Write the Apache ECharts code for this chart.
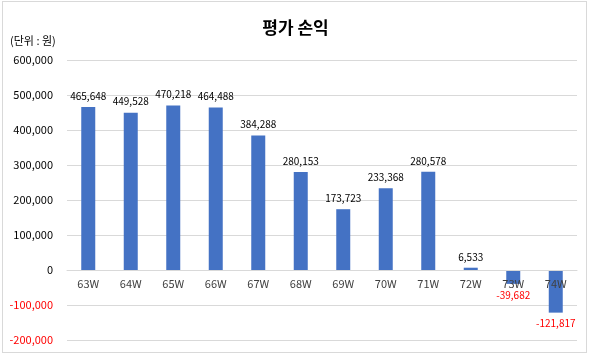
<!DOCTYPE html>
<html><head><meta charset="utf-8">
<script src="https://cdn.jsdelivr.net/npm/echarts@6/dist/echarts.min.js"></script>
<style>html,body{margin:0;padding:0;background:#fff}#c{width:591px;height:356px}
#frame{position:absolute;left:2px;top:1px;width:585px;height:352px;border:1px solid #d9d9d9;box-sizing:border-box;pointer-events:none}</style>
</head><body><div id="c"></div><div id="frame"></div>
<script>
var categories = ['63W','64W','65W','66W','67W','68W','69W','70W','71W','72W','73W','74W'];
var values = [465648,449528,470218,464488,384288,280153,173723,233368,280578,6533,-39682,-121817];
var yTicks = [-200000,-100000,0,100000,200000,300000,400000,500000,600000];
var title = '평가 손익';
var unitLabel = '(단위 : 원)';

function fmt(v){ return String(v).replace(/\B(?=(\d{3})+(?!\d))/g, ','); }
var font = '"Noto Sans CJK KR", "Noto Sans", sans-serif';
var chart = echarts.init(document.getElementById('c'));
var option = {
  animation:false,
  textStyle:{fontFamily:font},
  title:{text:title,left:'center',top:14,textStyle:{fontSize:17,fontWeight:'bold',color:'#000',fontFamily:font}},
  graphic:[{type:'text',left:10,top:35,style:{text:unitLabel,fontSize:11,fill:'#000',fontFamily:font}}],
  grid:{left:67,right:14,top:60,bottom:16,containLabel:false},
  xAxis:{type:'category',data:categories,axisTick:{show:false},offset:0,z:5,
    axisLine:{show:true,onZero:true,lineStyle:{color:'#d9d9d9'}},
    axisLabel:{color:'#404040',fontSize:11,margin:8,fontFamily:font}},
  yAxis:{type:'value',min:yTicks[0],max:yTicks[yTicks.length-1],interval:100000,
    axisLine:{show:false},axisTick:{show:false},
    splitLine:{lineStyle:{color:'#d9d9d9'}},
    axisLabel:{fontSize:11,margin:14,fontFamily:font,formatter:function(v){return fmt(v);},
      color:function(v){return Number(v)<0?'#ff0000':'#000';}}},
  series:[{type:'bar',barWidth:14,z:2,
    data:values.map(function(v){return {value:v,label:{position:v<0?'bottom':'top',color:v<0?'#ff0000':'#000'}};}),
    itemStyle:{color:'#4472C4'},
    label:{show:true,fontSize:10,distance:6,fontFamily:font,formatter:function(p){return fmt(p.value);}}}]
};
chart.setOption(option);
// move category axis to the zero line using the value scale
var yZero = chart.convertToPixel({yAxisIndex:0}, 0);
var yMin = chart.convertToPixel({yAxisIndex:0}, yTicks[0]);
if (Math.abs(yMin - yZero) > 1) {
  chart.setOption({xAxis:{offset:-(yMin - yZero)}});
}
</script></body></html>
